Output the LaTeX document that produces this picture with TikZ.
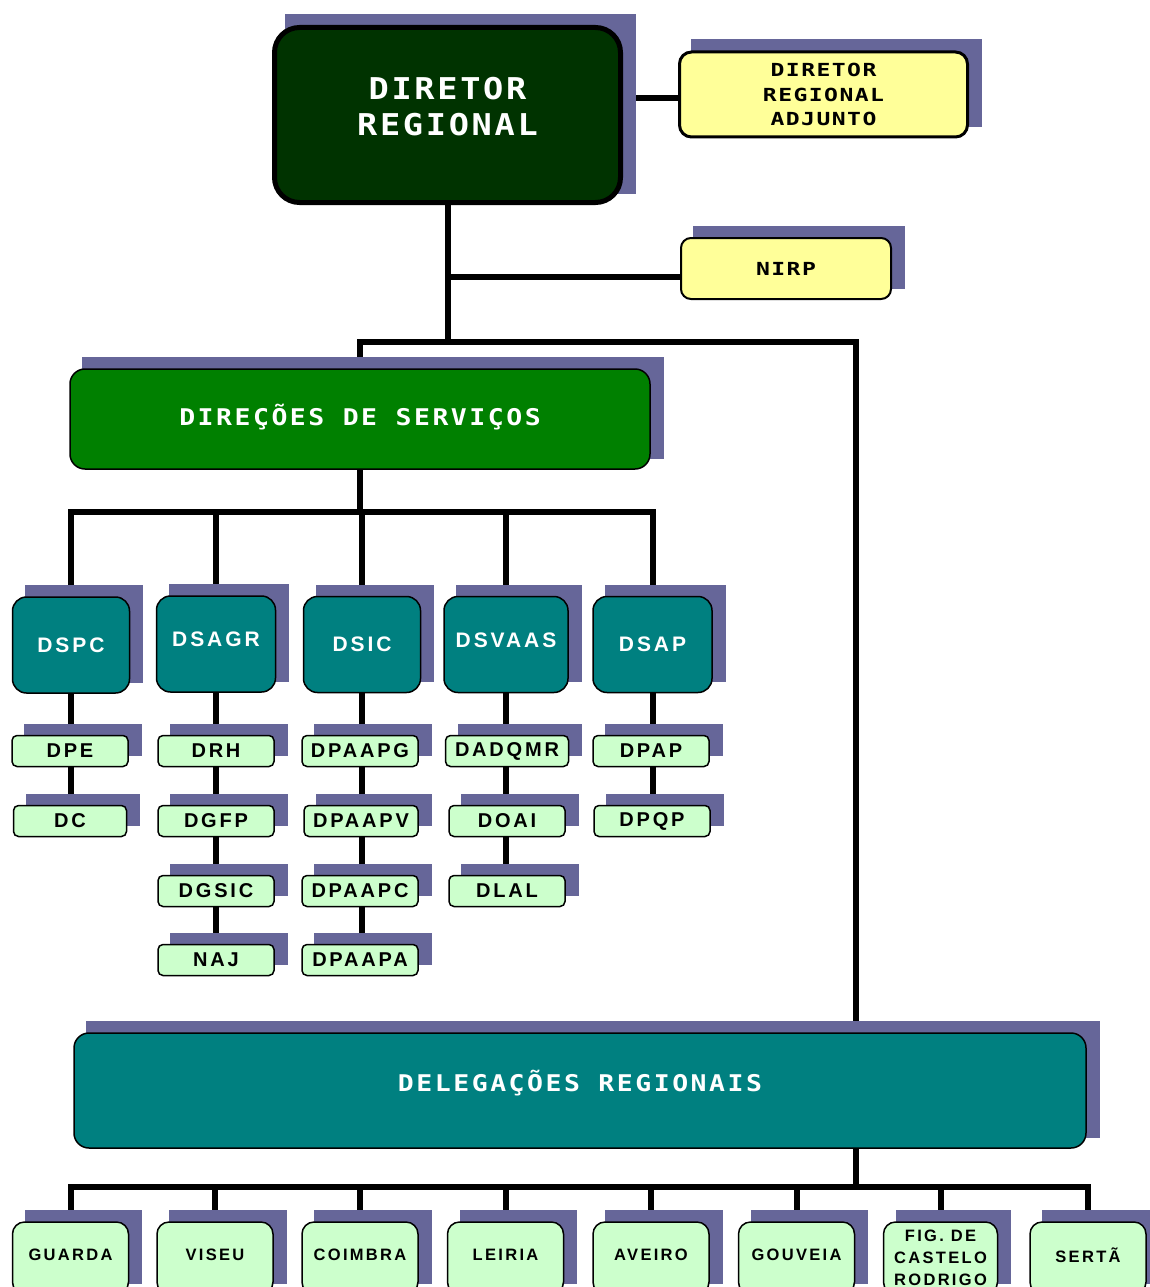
\documentclass[tikz,border=0pt]{standalone}
\usepackage{fontspec}
\setmainfont{Liberation Sans}
\newfontfamily\monoL[LetterSpace=9,FakeStretch=1.12]{DejaVu Sans Mono}
\newfontfamily\monoM[LetterSpace=11,FakeStretch=1.15]{DejaVu Sans Mono}
\newfontfamily\monoS[LetterSpace=8,FakeStretch=1.28]{DejaVu Sans Mono}
\newfontfamily\sansT[LetterSpace=14]{Liberation Sans}
\newcommand\upby[1]{\rule[-#1]{0pt}{#1}}
\usetikzlibrary{calc}
\definecolor{shadowc}{HTML}{666699}
\definecolor{dkgreen}{HTML}{003300}
\definecolor{midgreen}{HTML}{008000}
\definecolor{tealc}{HTML}{008080}
\definecolor{yellowc}{HTML}{FFFF99}
\definecolor{ltgreen}{HTML}{CCFFCC}
\pgfdeclarelayer{bg}
\pgfdeclarelayer{mid}
\pgfsetlayers{bg,mid,main}
\begin{document}
\begin{tikzpicture}[x=1pt,y=-1pt,
  conn/.style={line width=6pt,draw=black},
  mainbox/.style={draw=black,line width=5pt,fill=dkgreen,rounded corners=25pt,
    minimum width=346pt,minimum height=175pt,inner sep=0pt,align=center,text=white,
    font={\monoL\bfseries\fontsize{30}{36}\selectfont}},
  yelbox/.style={draw=black,fill=yellowc,inner sep=0pt,align=center,text=black,
    font={\monoS\bfseries\fontsize{18}{24.5}\selectfont}},
  bigbox/.style={draw=black,line width=1.5pt,rounded corners=15pt,inner sep=0pt,
    align=center,text=white,font={\monoM\bfseries\fontsize{23}{28}\selectfont}},
  tealbox/.style={draw=black,line width=1.5pt,fill=tealc,rounded corners=14pt,
    minimum width=117pt,minimum height=96pt,inner sep=0pt,align=center,text=white,
    font={\sansT\bfseries\fontsize{21}{25}\selectfont}},
  subbox/.style={draw=black,line width=1.5pt,fill=ltgreen,rounded corners=5pt,
    minimum width=116pt,minimum height=31pt,inner sep=0pt,align=center,text=black,
    font={\sansT\bfseries\fontsize{20}{24}\selectfont}},
  botbox/.style={draw=black,line width=1.5pt,fill=ltgreen,rounded corners=12pt,
    minimum width=116pt,minimum height=72pt,inner sep=0pt,align=center,text=black,
    font={\sansT\bfseries\fontsize{16.5}{22}\selectfont}}
]
\useasboundingbox (0,0) rectangle (1150,1287);

% top level
\node[mainbox] (dr) at (447.5,115) {DIRETOR\\REGIONAL\upby{18pt}};
\node[yelbox,line width=3pt,rounded corners=12pt,minimum width=288pt,minimum height=85pt] (adj) at (823.5,94.5) {DIRETOR\\REGIONAL\\ADJUNTO};
\node[yelbox,line width=2pt,rounded corners=10pt,minimum width=210pt,minimum height=61pt] (nirp) at (786,268.5) {NIRP};

% direcoes
\node[bigbox,fill=midgreen,minimum width=580pt,minimum height=100pt] (dir) at (360,419) {DIREÇÕES DE SERVIÇOS\upby{8pt}};

\node[tealbox] (dspc) at (71,645) {DSPC};
\node[tealbox,minimum width=119pt] (dsagr) at (216,644) {DSAGR\upby{10pt}};
\node[tealbox] (dsic) at (362,644.5) {DSIC};
\node[tealbox,minimum width=124pt] (dsvaas) at (506,644.5) {DSVAAS\upby{9pt}};
\node[tealbox,minimum width=119pt] (dsap) at (652.5,644.5) {DSAP};

\node[subbox] (dpe) at (70,751) {DPE};
\node[subbox,minimum width=113pt] (dc) at (70,821) {DC};
\node[subbox] (drh) at (216,751) {DRH};
\node[subbox] (dgfp) at (216,821) {DGFP};
\node[subbox] (dgsic) at (216,891) {DGSIC};
\node[subbox] (naj) at (216,960) {NAJ};
\node[subbox] (dpaapg) at (360,751) {DPAAPG};
\node[subbox,minimum width=114pt] (dpaapv) at (361,821) {DPAAPV};
\node[subbox] (dpaapc) at (360,891) {DPAAPC};
\node[subbox] (dpaapa) at (360,960) {DPAAPA};
\node[subbox,minimum width=123pt] (dadqmr) at (507,751) {DADQMR};
\node[subbox] (doai) at (507,821) {DOAI};
\node[subbox] (dlal) at (507,891) {DLAL};
\node[subbox] (dpap) at (651,751) {DPAP};
\node[subbox] (dpqp) at (652,821) {DPQP};

% delegacoes
\node[bigbox,fill=tealc,minimum width=1012pt,minimum height=115pt] (del) at (580,1090.5) {DELEGAÇÕES REGIONAIS\upby{20pt}};

\node[botbox] (guarda) at (70.5,1258) {GUARDA\upby{6pt}};
\node[botbox] (viseu) at (215,1258) {VISEU\upby{6pt}};
\node[botbox] (coimbra) at (360,1258) {COIMBRA\upby{6pt}};
\node[botbox] (leiria) at (505.5,1258) {LEIRIA\upby{6pt}};
\node[botbox] (aveiro) at (651,1258) {AVEIRO\upby{6pt}};
\node[botbox] (gouveia) at (796.5,1258) {GOUVEIA\upby{6pt}};
\node[botbox,minimum width=114pt] (fig) at (940.5,1258) {FIG. DE\\CASTELO\\RODRIGO};
\node[botbox] (serta) at (1088,1258) {SERTÃ\upby{6pt}};

% shadows
\begin{pgfonlayer}{mid}
\foreach \n in {dr,adj,nirp,dir,dspc,dsagr,dsic,dsvaas,dsap,dpe,dc,drh,dgfp,dgsic,naj,
  dpaapg,dpaapv,dpaapc,dpaapa,dadqmr,doai,dlal,dpap,dpqp,del,guarda,viseu,coimbra,
  leiria,aveiro,gouveia,fig,serta}
  \fill[shadowc] ($(\n.south west)+(13,-11)$) rectangle ($(\n.north east)+(13,-11)$);
\end{pgfonlayer}

% connectors
\coordinate (ja) at (447.5,98);
\coordinate (j1) at (447.5,277);
\coordinate (j2) at (447.5,342);
\coordinate (jl) at (360,342);
\coordinate (jr) at (856,342);
\coordinate (jd) at (360,512);
\coordinate (jb) at (856,1187);
\begin{pgfonlayer}{bg}
\draw[conn] (dr.east |- ja) -- (ja -| adj.west);
\draw[conn] (dr.south) -- (j2);
\draw[conn] (j1) -- (j1 -| nirp.west);
\draw[conn] (dir.north) -- (jl) -- (jr) -- (jr |- del.north);
\draw[conn] (dir.south) -- (jd);
\draw[conn] (dspc.north) -- (dspc.north |- jd) -- (dsap.north |- jd) -- (dsap.north);
\foreach \n in {dsagr,dsic,dsvaas} \draw[conn] (\n.north) -- (\n.north |- jd);
\draw[conn] (dspc.south) -- (dspc.south |- dc.north);
\draw[conn] (dsagr.south) -- (dsagr.south |- naj.north);
\draw[conn] (dsic.south) -- (dsic.south |- dpaapa.north);
\draw[conn] (dsvaas.south) -- (dsvaas.south |- dlal.north);
\draw[conn] (dsap.south) -- (dsap.south |- dpqp.north);
\draw[conn] (del.south -| jb) -- (jb);
\draw[conn] (guarda.north) -- (guarda.north |- jb) -- (serta.north |- jb) -- (serta.north);
\foreach \n in {viseu,coimbra,leiria,aveiro,gouveia,fig} \draw[conn] (\n.north) -- (\n.north |- jb);
\end{pgfonlayer}
\end{tikzpicture}
\end{document}
